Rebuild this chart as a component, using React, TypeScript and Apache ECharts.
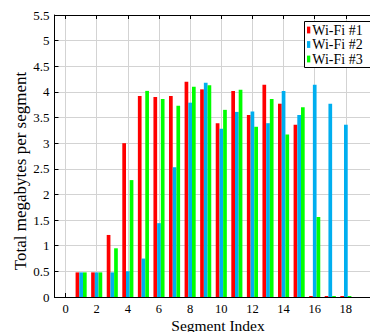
import React, { useEffect, useRef } from "react";
import * as echarts from "echarts";

const segments = [1, 2, 3, 4, 5, 6, 7, 8, 9, 10, 11, 12, 13, 14, 15, 16, 17, 18];
const wifi1 = [0.48, 0.48, 1.21, 3.0, 3.92, 3.9, 3.92, 4.2, 4.05, 3.39, 4.02, 3.55, 4.14, 3.77, 3.36, 0, 0, 0];
const wifi2 = [0.48, 0.48, 0.48, 0.5, 0.75, 1.44, 2.53, 3.79, 4.18, 3.28, 3.61, 3.62, 3.39, 4.02, 3.55, 4.14, 3.77, 3.36];
const wifi3 = [0.48, 0.48, 0.95, 2.28, 4.02, 3.86, 3.73, 4.1, 4.13, 3.65, 4.04, 3.32, 3.86, 3.17, 3.7, 1.56, 0, 0];
const seriesNames = ["Wi-Fi #1", "Wi-Fi #2", "Wi-Fi #3"];
const colors = ["#ff0000", "#00aeef", "#00ff00"];
const xTicks = [0, 2, 4, 6, 8, 10, 12, 14, 16, 18];
const xLabel = "Segment Index";
const yLabel = "Total megabytes per segment";

const FONT = "Liberation Serif";

export default function App() {
  const ref = useRef<HTMLDivElement>(null);
  useEffect(() => {
    if (!ref.current) return;
    const chart = echarts.init(ref.current, undefined, { renderer: "svg" });
    const all = [wifi1, wifi2, wifi3];
    const xMin = -0.71;
    const xMax = 19.55;
    const legendRows = [30, 44.5, 59];
    const option: any = {
      animation: false,
      grid: { left: 54.5, top: 15, bottom: 35, right: -10, containLabel: false },
      xAxis: [
        {
          type: "value",
          position: "bottom",
          min: xMin,
          max: xMax,
          axisLine: { show: true, onZero: false, lineStyle: { color: "#000", width: 1 } },
          axisTick: { show: true, inside: true, length: 4, customValues: xTicks, lineStyle: { color: "#000" } },
          axisLabel: { show: true, customValues: xTicks, margin: 6, fontFamily: FONT, fontSize: 12.5, lineHeight: 12, color: "#000" },
          splitLine: { show: true, lineStyle: { color: "#d3d3d3", width: 1 } },
        },
        {
          type: "value",
          position: "top",
          min: xMin,
          max: xMax,
          axisLine: { show: true, onZero: false, lineStyle: { color: "#000", width: 1 } },
          axisTick: { show: true, inside: true, length: 4, customValues: xTicks, lineStyle: { color: "#000" } },
          axisLabel: { show: false },
          splitLine: { show: false },
        },
      ],
      yAxis: {
        type: "value",
        min: 0,
        max: 5.5,
        interval: 0.5,
        axisLine: { show: true, onZero: false, lineStyle: { color: "#000", width: 1 } },
        axisTick: { show: true, inside: true, length: 4, lineStyle: { color: "#000" } },
        axisLabel: { margin: 5, fontFamily: FONT, fontSize: 13, color: "#000" },
        splitLine: { show: true, lineStyle: { color: "#d3d3d3", width: 1 } },
      },
      series: all.map((vals, k) => ({
        type: "bar",
        name: seriesNames[k],
        xAxisIndex: 0,
        data: segments.map((s, i) => [s, vals[i]]),
        barWidth: 3.7,
        barGap: "0%",
        barMinHeight: 1,
        itemStyle: { color: colors[k] },
      })),
      graphic: [
        {
          type: "text",
          x: 218,
          y: 325,
          style: { text: xLabel, fontFamily: FONT, fontSize: 15.5, lineHeight: 13, fill: "#000", align: "center", verticalAlign: "middle" },
        },
        {
          type: "text",
          x: 20.5,
          y: 171,
          rotation: Math.PI / 2,
          style: { text: yLabel, fontFamily: FONT, fontSize: 17, fill: "#000", align: "center", verticalAlign: "middle" },
        },
        {
          type: "rect",
          z: 100,
          shape: { x: 304.5, y: 21.5, width: 80, height: 46 },
          style: { fill: "#fff", stroke: "#000", lineWidth: 1 },
        },
        ...seriesNames.flatMap((n, k) => [
          {
            type: "rect",
            z: 101,
            shape: { x: 307, y: legendRows[k] - 3.4, width: 3.3, height: 6.8 },
            style: { fill: colors[k] },
          },
          {
            type: "text",
            z: 101,
            x: 312.3,
            y: legendRows[k],
            style: { text: n, fontFamily: FONT, fontSize: 14, lineHeight: 12, fill: "#000", align: "left", verticalAlign: "middle" },
          },
        ]),
      ],
    };
    chart.setOption(option);
    return () => chart.dispose();
  }, []);
  return (
    <div
      ref={ref}
      style={{ position: "fixed", left: 0, top: 0, width: 370, height: 332, background: "#fff" }}
    />
  );
}
